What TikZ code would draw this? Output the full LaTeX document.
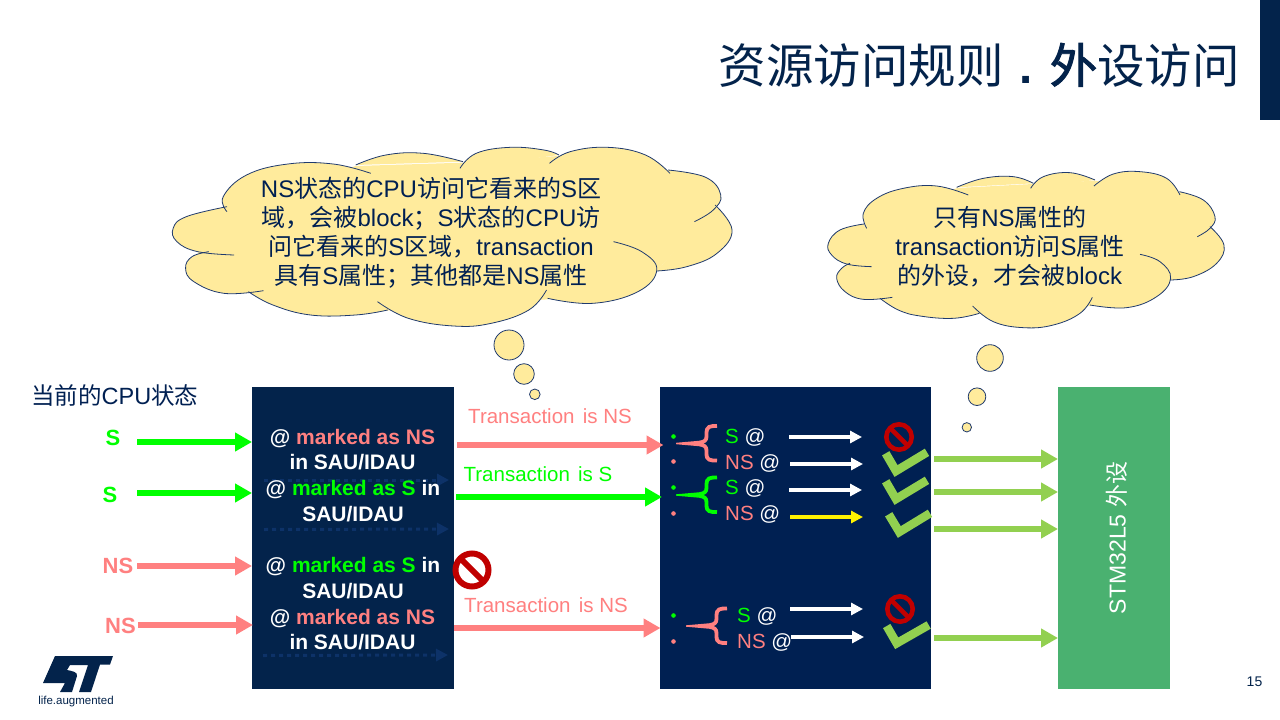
\documentclass[tikz,border=0pt]{standalone}
\usepackage{fontspec}
\setmainfont{Liberation Sans}
\newfontfamily\cjk{Noto Sans CJK SC}
\newfontfamily\cjkheavy[FakeBold=2]{Noto Sans CJK SC}
\usetikzlibrary{arrows.meta}
\definecolor{navy}{HTML}{03234B}
\definecolor{navyb}{HTML}{002052}
\definecolor{dotblue}{HTML}{0D3268}
\definecolor{pinkc}{HTML}{FF8080}
\definecolor{greenc}{HTML}{00FF00}
\definecolor{checkc}{HTML}{92D050}
\definecolor{stopc}{HTML}{C00000}
\definecolor{periph}{HTML}{4AB170}
\definecolor{cloudc}{HTML}{FFEB9C}
\definecolor{cloudline}{HTML}{1F3A6E}
\newcommand{\C}[1]{{\cjk #1}}
\newcommand{\fsz}[2]{\fontsize{#1}{#2}\selectfont}
\newcommand{\Gr}[1]{\textcolor{greenc}{#1}}
\newcommand{\Pk}[1]{\textcolor{pinkc}{#1}}
\newcommand{\bracemark}[2]{%
  \begin{scope}[shift={(#1)}]
    \draw[#2,line width=3.8pt] (41,-17.5) .. controls (34,-17.5) and (30.5,-17.5) .. (30.5,-10)
      -- (30.5,-7) .. controls (30.5,-3) and (28,-1.5) .. (24,-1);
    \draw[#2,line width=3.8pt] (41,17) .. controls (34,17) and (30.5,17) .. (30.5,10)
      -- (30.5,7) .. controls (30.5,3) and (28,1.5) .. (24,1);
    \fill[#2] (0,-.7) -- (24,-2.8) -- (28,0) -- (24,2.8) -- (0,.7) -- cycle;
  \end{scope}}
\newcommand{\cloudA}{%
 \lobe{(178,215)(168,170)(230,105)(340,72)(460,72)(560,100)}
 \lobe{(520,75)(600,45)(700,40)(805,65)}
 \lobe{(797,85)(840,40)(930,22)(1020,30)(1060,45)}
 \lobe{(1035,70)(1090,35)(1190,22)(1290,45)(1355,100)}
 \lobe{(1350,90)(1450,112)(1490,165)(1470,210)(1420,245)}
 \lobe{(1475,195)(1520,270)(1480,340)(1400,380)(1320,393)}
 \lobe{(1205,305)(1280,335)(1320,390)(1270,455)(1150,490)(1030,475)}
 \lobe{(1027,450)(980,510)(880,550)(780,558)(660,535)(578,485)}
 \lobe{(605,510)(520,525)(400,525)(300,495)(235,455)}
 \lobe{(275,452)(170,460)(90,425)(68,385)(85,350)(130,335)}
 \lobe{(197,345)(100,335)(45,305)(35,265)(70,230)(178,200)}
}
\newcommand{\cloudB}{%
 \lobe{(140,205)(130,160)(170,115)(250,85)(350,78)(445,105)}
 \lobe{(410,82)(490,55)(580,50)(640,70)}
 \lobe{(632,85)(670,50)(750,38)(825,60)}
 \lobe{(822,78)(880,42)(960,35)(1040,55)(1080,105)}
 \lobe{(1078,95)(1150,120)(1185,170)(1170,205)(1132,230)}
 \lobe{(1170,200)(1212,255)(1190,310)(1120,350)(1050,360)}
 \lobe{(960,283)(1020,305)(1052,355)(1010,410)(920,443)(810,435)}
 \lobe{(817,412)(780,460)(700,495)(610,503)(520,485)(458,438)}
 \lobe{(478,460)(400,475)(300,468)(235,450)(180,415)}
 \lobe{(217,412)(130,418)(75,395)(50,355)(65,325)(90,310)}
 \lobe{(155,320)(80,312)(35,285)(25,250)(60,210)(132,192)}
}
\begin{document}
\begin{tikzpicture}[x=1pt,y=-1pt,
  block/.style={draw=none,inner sep=0pt,anchor=north west},
  garrow/.style={greenc,line width=5.5pt,-{Triangle[length=17pt,width=18pt]}},
  parrow/.style={pinkc,line width=5.5pt,-{Triangle[length=17pt,width=18pt]}},
  warrow/.style={white,line width=3.6pt,-{Triangle[length=12pt,width=12pt]}},
  yarrow/.style={yellow,line width=3.6pt,-{Triangle[length=12pt,width=12pt]}},
  larrow/.style={checkc,line width=6pt,-{Triangle[length=17pt,width=18pt]}},
  darrow/.style={dotblue,line width=3pt,dash pattern=on 4pt off 4pt,-{Triangle[length=12pt,width=12pt,sep=0pt]}},
  cpulabel/.style={font=\bfseries\fsz{22}{26},inner sep=0pt},
  boxtext/.style={text=white,font=\bfseries\fsz{21}{25.5},align=center,inner sep=0pt},
  translabel/.style={font=\fsz{20.5}{24},inner sep=0pt},
  addr/.style={text=white,font=\fsz{20.5}{24},inner sep=0pt,anchor=west},
  cloudtext/.style={text=navyb,font=\fsz{24}{29},align=center,inner sep=0pt},
  bubble/.style={draw=cloudline,fill=cloudc,line width=.8pt},
  checkmark/.style={checkc,line width=8.5pt,line join=miter}
]
\useasboundingbox (0,0) rectangle (1280,720);
\fill[white] (0,0) rectangle (1280,720);
% header
\fill[navy] (1260,0) rectangle (1280,120);
\node[text=navy,font=\fsz{47.5}{56},inner sep=0pt,anchor=east] (title) at (1240,65)
  {\C{资源访问规则}\hspace{2pt} \textbf{.} {\cjkheavy 外}\C{设访问}};
% clouds
\begin{scope}[x=0.37636pt,y=-0.33333pt,shift={(425.1,420)}]
  \fill[cloudc] (178,205)--(520,78)--(806,68)--(1058,48)--(1352,95)--(1480,195)--(1320,393)--(1030,478)--(600,512)--(238,458)--(100,340)--cycle;
  \def\lobe#1{\fill[cloudc] plot[smooth,tension=.7] coordinates {#1} -- cycle;}\cloudA
  \def\lobe#1{\draw[cloudline,line width=.8pt] plot[smooth,tension=.7] coordinates {#1};}\cloudA
\end{scope}
\begin{scope}[x=0.33333pt,y=-0.33333pt,shift={(2460,480)}]
  \fill[cloudc] (135,195)--(412,84)--(638,72)--(825,62)--(1080,100)--(1175,205)--(1050,360)--(812,438)--(476,462)--(183,417)--(85,315)--cycle;
  \def\lobe#1{\fill[cloudc] plot[smooth,tension=.7] coordinates {#1} -- cycle;}\cloudB
  \def\lobe#1{\draw[cloudline,line width=.8pt] plot[smooth,tension=.7] coordinates {#1};}\cloudB
\end{scope}
\node[cloudtext] (cloudtexta) at (431,233) {NS\C{状态的}CPU\C{访问它看来的}S\C{区}\\
  \C{域，会被}block\C{；}S\C{状态的}CPU\C{访}\\
  \C{问它看来的}S\C{区域，}transaction\\
  \C{具有}S\C{属性；其他都是}NS\C{属性}};
\node[cloudtext] (cloudtextb) at (1010,246.5) {\C{只有}NS\C{属性的}\\
  transaction\C{访问}S\C{属性}\\
  \C{的外设，才会被}block};
\draw[bubble] (509,345) circle[radius=15];
\draw[bubble] (524,374) circle[radius=10.3];
\draw[bubble] (534.8,394.3) circle[radius=5.3];
\draw[bubble] (990,358) circle[radius=13.3];
\draw[bubble] (977,396.7) circle[radius=8.8];
\draw[bubble] (966.8,427.3) circle[radius=4.7];
% blocks
\node[block,fill=navy,minimum width=202pt,minimum height=302pt] (box1) at (252,387) {};
\node[block,fill=navyb,minimum width=271pt,minimum height=302pt] (box2) at (660,387) {};
\node[block,fill=periph,minimum width=112pt,minimum height=302pt] (box3) at (1058,387) {};
\node[text=white,font=\fsz{23}{27},rotate=90,inner sep=0pt] (periphlabel) at (1117,538) {STM32L5 \C{外设}};
% CPU state
\node[text=navyb,font=\fsz{23.5}{28},inner sep=0pt,anchor=west] (cpustate) at (31,396) {\C{当前的}CPU\C{状态}};
\node[cpulabel,text=greenc] (ls1) at (113,438) {S};
\node[cpulabel,text=greenc] (ls2) at (110,495) {S};
\node[cpulabel,text=pinkc] (ln1) at (118,566) {NS};
\node[cpulabel,text=pinkc] (ln2) at (120.5,626) {NS};
\coordinate (s1) at (137,442);
\coordinate (s2) at (137,493);
\coordinate (n1) at (137,566);
\coordinate (n2) at (138,625);
\draw[garrow] (s1) -- (s1 -| box1.west);
\draw[garrow] (s2) -- (s2 -| box1.west);
\draw[parrow] (n1) -- (n1 -| box1.west);
\draw[parrow] (n2) -- ([xshift=1pt]n2 -| box1.west);
% dotted arrows
\coordinate (d1a) at (264,480); \coordinate (d1b) at (449,480);
\coordinate (d2a) at (264,529.5); \coordinate (d2b) at (449,529);
\coordinate (d3a) at (263,655.5); \coordinate (d3b) at (448,655);
\draw[darrow] (d1a) -- (d1b);
\draw[darrow] (d2a) -- (d2b);
\draw[darrow] (d3a) -- (d3b);
% box1 text
\node[boxtext] (t1) at (352.5,449.5) {@ \Pk{marked as NS}\\in SAU/IDAU};
\node[boxtext] (t2) at (353,501) {@ \Gr{marked as S} in\\SAU/IDAU};
\node[boxtext] (t3) at (353,578) {@ \Gr{marked as S} in\\SAU/IDAU};
\node[boxtext] (t4) at (352.5,629.5) {@ \Pk{marked as NS}\\in SAU/IDAU};
% transactions
\node[translabel,text=pinkc] (tr1) at (550,416) {Transaction\hspace{2.5pt} is NS};
\node[translabel,text=greenc] (tr2) at (538,474) {Transaction\hspace{2.5pt} is S};
\node[translabel,text=pinkc] (tr3) at (546,605) {Transaction\hspace{2.5pt} is NS};
\coordinate (ta) at (457,445); \coordinate (tae) at (663.5,445);
\coordinate (tb) at (456,497); \coordinate (tbe) at (662,497);
\coordinate (tc) at (454,628); \coordinate (tce) at (660.5,628);
\draw[parrow] (ta) -- (tae);
\draw[garrow] (tb) -- (tbe);
\draw[parrow] (tc) -- (tce);
% dots
\fill[greenc] (673.5,436.5) circle[radius=2.3];
\fill[pinkc] (673.5,461.5) circle[radius=2.3];
\fill[greenc] (673.5,487.5) circle[radius=2.3];
\fill[pinkc] (673.5,513.5) circle[radius=2.3];
\fill[greenc] (673.5,615.5) circle[radius=2.3];
\fill[pinkc] (673.5,641.5) circle[radius=2.3];
% braces
\bracemark{676,443.5}{pinkc}
\bracemark{676,495}{greenc}
\bracemark{686,626}{pinkc}
% addresses
\node[addr] (a1) at (725,437) {\Gr{S} @};
\node[addr] (a2) at (725,463) {\Pk{NS} @};
\node[addr] (a3) at (725,488.5) {\Gr{S} @};
\node[addr] (a4) at (725,514.5) {\Pk{NS} @};
\node[addr] (a5) at (737,616.5) {\Gr{S} @};
\node[addr] (a6) at (737,642) {\Pk{NS} @};
% white arrows
\coordinate (w1) at (789,437); \coordinate (w1e) at (862,437);
\coordinate (w2) at (790,464); \coordinate (w2e) at (863,464);
\coordinate (w3) at (789,490); \coordinate (w3e) at (862,490);
\coordinate (w4) at (790,517); \coordinate (w4e) at (863,517);
\coordinate (w5) at (790,609); \coordinate (w5e) at (863,609);
\coordinate (w6) at (791,637); \coordinate (w6e) at (864,637);
\draw[warrow] (w1) -- (w1e);
\draw[warrow] (w2) -- (w2e);
\draw[warrow] (w3) -- (w3e);
\draw[yarrow] (w4) -- (w4e);
\draw[warrow] (w5) -- (w5e);
\draw[warrow] (w6) -- (w6e);
% checks
\draw[checkmark] (885.7,453.3) -- (896,471) -- (927,452.3);
\draw[checkmark] (885.7,481.3) -- (896,499) -- (927,480.3);
\draw[checkmark] (888.7,514.3) -- (899.3,532) -- (930,513.3);
\draw[checkmark] (886.7,626) -- (896.7,643.3) -- (928.7,625);
% stop signs
\coordinate (stopa) at (899,437);
\coordinate (stopb) at (900,609);
\coordinate (stopd) at (472,570);
\draw[stopc,line width=4.6pt] (stopa) circle[radius=12.7];
\draw[stopc,line width=4.6pt] (889.8,427.8) -- (908.2,446.2);
\draw[stopc,line width=4.6pt] (stopb) circle[radius=12.7];
\draw[stopc,line width=4.6pt] (890.8,599.8) -- (909.2,618.2);
\draw[stopc,line width=6pt] (stopd) circle[radius=16.5];
\draw[stopc,line width=6pt] (460,558) -- (484,582);
% peripheral arrows
\coordinate (g1) at (934,459);
\coordinate (g2) at (934,492);
\coordinate (g3) at (934,529);
\coordinate (g4) at (934,638);
\draw[larrow] (g1) -- (g1 -| box3.west);
\draw[larrow] (g2) -- (g2 -| box3.west);
\draw[larrow] (g3) -- (g3 -| box3.west);
\draw[larrow] (g4) -- (g4 -| box3.west);
% logo
\fill[navy] (55,656) -- (113,656) -- (110,664.5) -- (100,664.5) -- (91,692) -- (79,692) -- (88,665) -- (70,665)
  -- (67,670) .. controls (72,671) and (78,672) .. (77,676) -- (72,692) -- (60,692) -- (65,683) -- (43,683) -- cycle;
\node[text=navy,font=\fsz{11.5}{13},inner sep=0pt] (lifeaug) at (76,702) {life.augmented};
\node[text=navy,font=\fsz{14}{16},inner sep=0pt] (pagenum) at (1254.5,682) {15};
\end{tikzpicture}
\end{document}
